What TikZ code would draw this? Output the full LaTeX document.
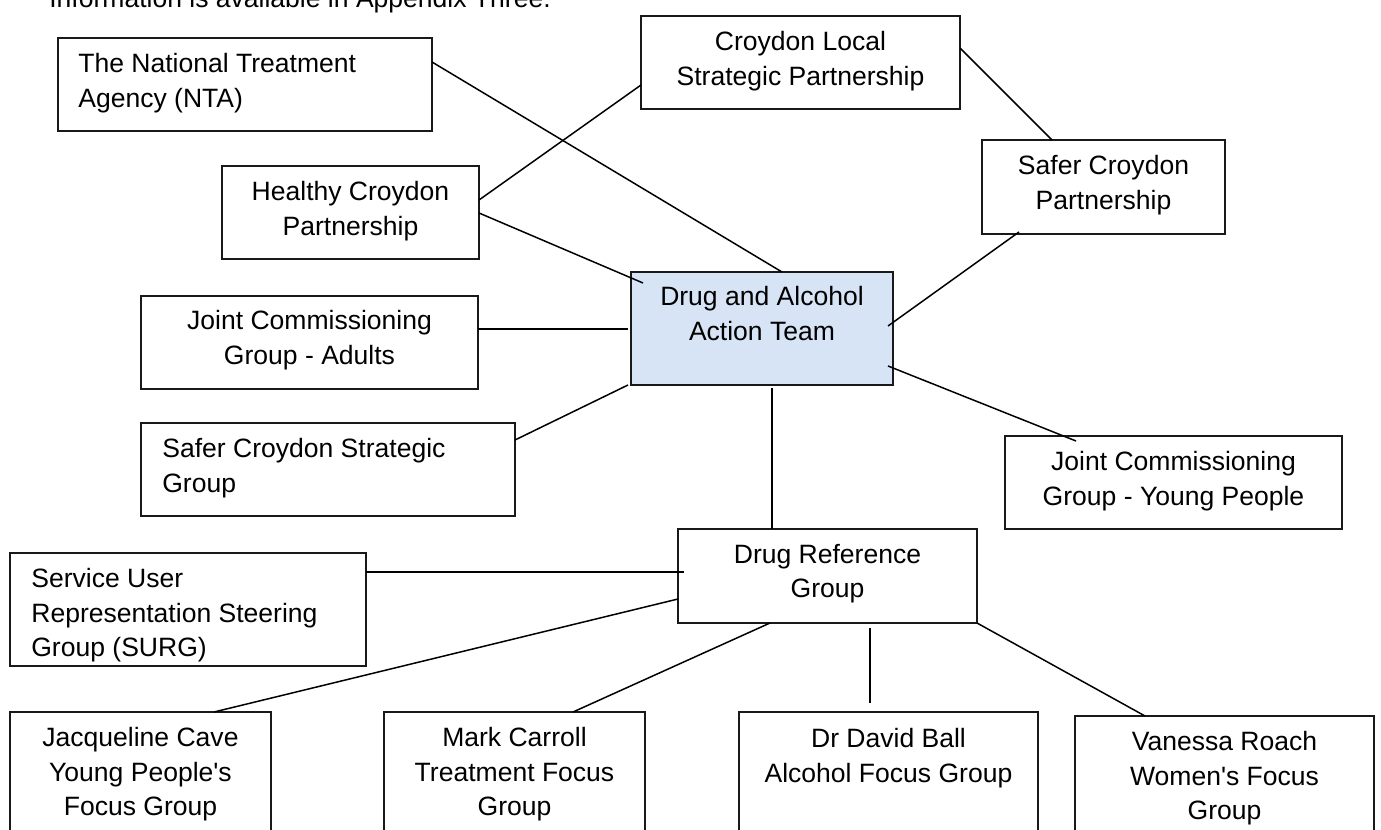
\documentclass[tikz,border=0pt]{standalone}
\usepackage{fontspec}
\setmainfont{Liberation Sans}
\usetikzlibrary{calc}
\definecolor{teamblue}{RGB}{214,228,245}

\begin{document}
\begin{tikzpicture}[x=0.02cm, y=-0.02cm]
  \tikzset{box/.style 2 args={draw=black!90, line width=1.1pt, inner sep=0pt, outer sep=0pt, anchor=north west, minimum width=#1*0.02cm, minimum height=#2*0.02cm}}
  \tikzset{link/.style={line width=0.85pt}}
  \tikzset{words/.style={inner sep=0pt, font=\fontsize{15.1pt}{19.6pt}\selectfont, align=center, anchor=north}}
  \tikzset{leftwords/.style={words, align=left, anchor=north west}}
  \useasboundingbox (0,0) rectangle (1381,830);
  \clip (0,0) rectangle (1381,830);

  \node[words, anchor=base west] (intro) at (49,8) {Information is available in Appendix Three.};

  \node[box={374}{93}] (nta) at (58,38) {};
  \node[box={319}{93}] (clsp) at (641,16) {};
  \node[box={257}{93}] (healthy) at (222,166) {};
  \node[box={243}{94}] (scp) at (982,140) {};
  \node[box={262}{113}, fill=teamblue] (daat) at (631,272) {};
  \node[box={337}{93}] (adults) at (141,296) {};
  \node[box={374}{93}] (scsg) at (141,423) {};
  \node[box={337}{93}] (yp) at (1005,436) {};
  \node[box={299}{94}] (drg) at (678,529) {};
  \node[box={356}{113}] (surg) at (10,553) {};
  \node[box={261}{140}] (jac) at (10,712) {};
  \node[box={261}{140}] (mark) at (384,712) {};
  \node[box={299}{140}] (ball) at (739,712) {};
  \node[box={299}{140}] (van) at (1075,716) {};

  \node[leftwords] (nta-t) at ($(nta.north west)+(20,15)$) {The National Treatment\\Agency (NTA)};
  \node[words] (clsp-t) at ($(clsp.north)+(0,15)$) {Croydon Local\\Strategic Partnership};
  \node[words] (healthy-t) at ($(healthy.north)+(0,15)$) {Healthy Croydon\\Partnership};
  \node[words] (scp-t) at ($(scp.north)+(0,15)$) {Safer Croydon\\Partnership};
  \node[words] (daat-t) at ($(daat.north)+(0,14)$) {Drug and Alcohol\\Action Team};
  \node[words] (adults-t) at ($(adults.north)+(0,14)$) {Joint Commissioning\\Group - Adults};
  \node[leftwords] (scsg-t) at ($(scsg.north west)+(21,15)$) {Safer Croydon Strategic\\Group};
  \node[words] (yp-t) at ($(yp.north)+(0,15)$) {Joint Commissioning\\Group - Young People};
  \node[words] (drg-t) at ($(drg.north)+(0,15)$) {Drug Reference\\Group};
  \node[leftwords] (surg-t) at ($(surg.north west)+(21,15)$) {Service User\\Representation Steering\\Group (SURG)};
  \node[words] (jac-t) at ($(jac.north)+(0,15)$) {Jacqueline Cave\\Young People\textquotesingle s\\Focus Group};
  \node[words] (mark-t) at ($(mark.north)+(0,15)$) {Mark Carroll\\Treatment Focus\\Group};
  \node[words] (ball-t) at ($(ball.north)+(0,16)$) {Dr David Ball\\Alcohol Focus Group};
  \node[words] (van-t) at ($(van.north)+(0,15)$) {Vanessa Roach\\Women\textquotesingle s Focus\\Group};

  \draw[link] ($(nta.north east)+(0,24)$) -- ($(daat.north west)+(151,0)$);
  \draw[link] ($(healthy.north east)+(0,34)$) -- ($(clsp.north west)+(0,69)$);
  \draw[link] ($(healthy.north east)+(0,47)$) -- ($(daat.north west)+(12,11)$);
  \draw[link] ($(clsp.north east)+(0,32)$) -- ($(scp.north west)+(70,0)$);
  \draw[link] ($(scp.south west)+(37,-2)$) -- ($(daat.north east)+(-5,54)$);
  \draw[link] ($(adults.north east)+(0,33)$) -- ($(daat.north west)+(-3,57)$);
  \draw[link] ($(scsg.north east)+(0,17)$) -- ($(daat.south west)+(-3,0)$);
  \draw[link] ($(daat.south east)+(-5,-19)$) -- ($(yp.north west)+(71,5)$);
  \draw[link] ($(daat.south west)+(141,3)$) -- ($(drg.north west)+(94,0)$);
  \draw[link] ($(surg.north east)+(0,19)$) -- ($(drg.north west)+(6,43)$);
  \draw[link] ($(drg.north west)+(0,70)$) -- ($(jac.north west)+(204,0)$);
  \draw[link] ($(drg.south west)+(92,0)$) -- ($(mark.north west)+(189,0)$);
  \draw[link] ($(drg.south west)+(192,5)$) -- ($(ball.north west)+(131,-9)$);
  \draw[link] (drg.south east) -- ($(van.north west)+(70,0)$);
\end{tikzpicture}
\end{document}
